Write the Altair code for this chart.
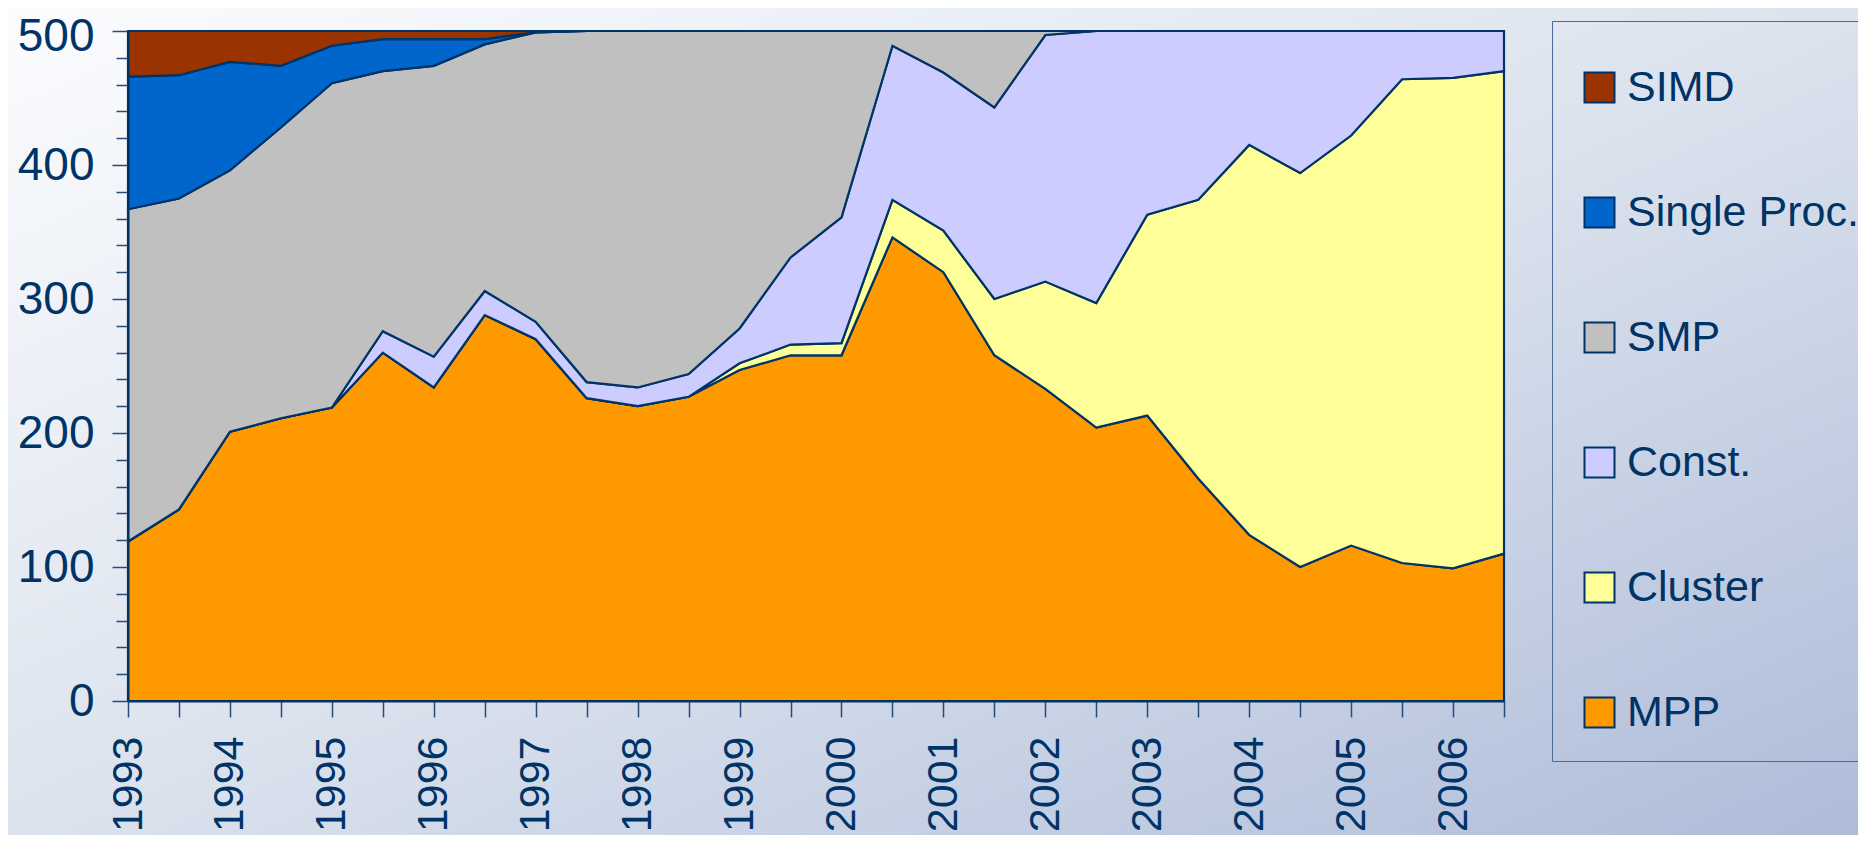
import altair as alt
import pandas as pd

periods = [1993.0, 1993.5, 1994.0, 1994.5, 1995.0, 1995.5, 1996.0, 1996.5,
           1997.0, 1997.5, 1998.0, 1998.5, 1999.0, 1999.5, 2000.0, 2000.5,
           2001.0, 2001.5, 2002.0, 2002.5, 2003.0, 2003.5, 2004.0, 2004.5,
           2005.0, 2005.5, 2006.0, 2006.5]

mpp = [119, 143, 201, 211, 219, 260, 234, 288, 270, 226, 220, 227, 247, 258,
       258, 346, 320, 258, 233, 204, 213, 166, 124, 100, 116, 103, 99, 110]
cluster = [0, 0, 0, 0, 0, 0, 0, 0, 0, 0, 0, 0, 5, 8,
           9, 28, 31, 42, 80, 93, 150, 208, 291, 294, 306, 361, 366, 360]
const = [0, 0, 0, 0, 0, 16, 23, 18, 13, 12, 14, 17, 26, 65,
         94, 115, 118, 143, 184, 203, 137, 126, 85, 106, 78, 36, 35, 30]
smp = [248, 232, 195, 217, 242, 194, 217, 184, 216, 262, 266, 256, 222, 169,
       139, 11, 31, 57, 3, 0, 0, 0, 0, 0, 0, 0, 0, 0]
single = [99, 92, 81, 46, 28, 24, 20, 4, 0, 0, 0, 0, 0, 0,
          0, 0, 0, 0, 0, 0, 0, 0, 0, 0, 0, 0, 0, 0]
simd = [34, 33, 23, 26, 11, 6, 6, 6, 1, 0, 0, 0, 0, 0,
        0, 0, 0, 0, 0, 0, 0, 0, 0, 0, 0, 0, 0, 0]

legend_names = ["SIMD", "Single Proc.", "SMP", "Const.", "Cluster", "MPP"]
legend_colors = ["#993300", "#0066CC", "#C0C0C0", "#CCCCFF", "#FFFF99", "#FF9900"]
y_ticks = [0, 20, 40, 60, 80, 100, 120, 140, 160, 180, 200, 220, 240, 260, 280,
           300, 320, 340, 360, 380, 400, 420, 440, 460, 480, 500]

series = {"MPP": mpp, "Cluster": cluster, "Const.": const,
          "SMP": smp, "Single Proc.": single, "SIMD": simd}
stack_rank = {"MPP": 0, "Cluster": 1, "Const.": 2, "SMP": 3, "Single Proc.": 4, "SIMD": 5}

rows = []
for name, vals in series.items():
    for p, v in zip(periods, vals):
        rows.append({"period": p, "count": v, "arch": name, "rank": stack_rank[name]})
df = pd.DataFrame(rows)

NAVY = "#003366"
FONT = "Liberation Sans"
W, H = 1376, 670
PAD = {"left": 120, "top": 23, "right": 354, "bottom": 134}

bg = alt.Chart(pd.DataFrame({"a": [0]})).mark_rect(
    fill=alt.Gradient(
        gradient="linear",
        stops=[alt.GradientStop(color="#fbfcfe", offset=0),
               alt.GradientStop(color="#dce3ee", offset=0.5),
               alt.GradientStop(color="#aebcd9", offset=1)],
        x1=0, y1=0, x2=1, y2=1),
).encode(
    x=alt.value(-PAD["left"]), x2=alt.value(W + PAD["right"]),
    y=alt.value(-PAD["top"]), y2=alt.value(H + PAD["bottom"]),
)

areas = alt.Chart(df).mark_area(stroke=NAVY, strokeWidth=2.2, opacity=1).encode(
    x=alt.X("period:Q",
            scale=alt.Scale(domain=[1993, 2006.5], nice=False, zero=False),
            axis=alt.Axis(values=periods,
                          labelExpr="datum.value % 1 === 0 ? format(datum.value, 'd') : ''",
                          labelAngle=270, labelAlign="right", labelBaseline="middle",
                          labelFontSize=43, labelFont=FONT, labelColor=NAVY,
                          labelPadding=19, labelFlush=False, labelOverlap=False,
                          tickSize=16, tickColor="#2a4a7a", tickWidth=1.5,
                          domainColor=NAVY, domainWidth=2, grid=False, title=None,
                          zindex=2)),
    y=alt.Y("count:Q", stack="zero",
            scale=alt.Scale(domain=[0, 500], nice=False),
            axis=alt.Axis(values=y_ticks,
                          labelExpr="datum.value % 100 === 0 ? datum.label : ''",
                          labelFontSize=46, labelFont=FONT, labelColor=NAVY,
                          labelPadding=18,
                          labelOffset={"condition": {"test": "datum.value === 500", "value": 5}, "value": 0},
                          tickSize={"condition": {"test": "datum.value % 100 === 0", "value": 16}, "value": 12},
                          tickColor="#2a4a7a", tickWidth=1.5,
                          domainColor=NAVY, domainWidth=2, grid=False, title=None,
                          zindex=2)),
    color=alt.Color("arch:N",
                    scale=alt.Scale(domain=legend_names, range=legend_colors),
                    legend=alt.Legend(orient="none", legendX=1424, legendY=-10,
                                      title=" ", titleFontSize=1, titlePadding=18,
                                      padding=26, strokeColor="#4a6a98",
                                      symbolType="square", symbolSize=900,
                                      symbolStrokeColor=NAVY, symbolStrokeWidth=2,
                                      symbolOpacity=1,
                                      labelFont=FONT, labelFontSize=43,
                                      labelColor=NAVY, labelOffset=6,
                                      rowPadding=81, labelLimit=400)),
    order=alt.Order("rank:Q", sort="ascending"),
)

chart = alt.layer(bg, areas).properties(
    width=W, height=H,
    padding=PAD,
    autosize=alt.AutoSizeParams(type="none"),
    background="#dfe5ef",
).configure_view(stroke=None)

chart.save("out.html", embed_options={"renderer": "svg", "actions": False})
